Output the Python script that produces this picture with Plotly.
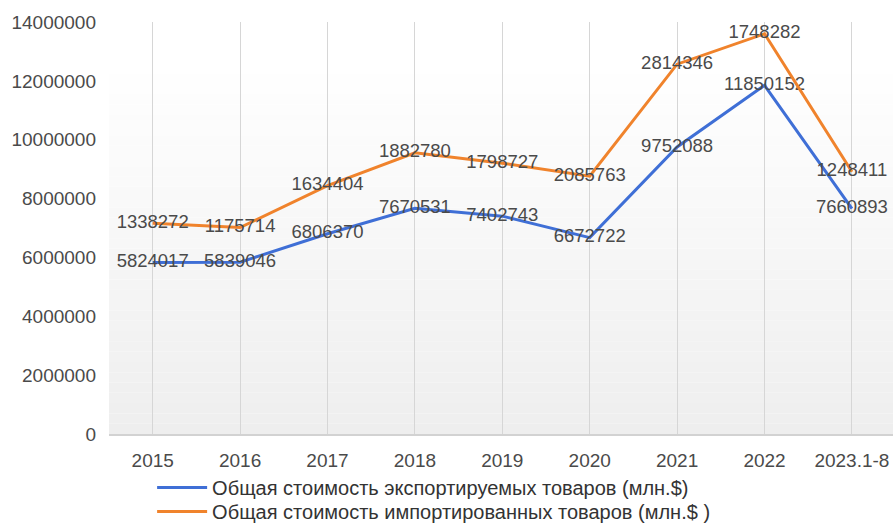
import plotly.graph_objects as go

categories = ["2015", "2016", "2017", "2018", "2019", "2020", "2021", "2022", "2023.1-8"]
exports = [5824017, 5839046, 6806370, 7670531, 7402743, 6672722, 9752088, 11850152, 7660893]
imports = [1338272, 1175714, 1634404, 1882780, 1798727, 2085763, 2814346, 1748282, 1248411]
y_ticks = [0, 2000000, 4000000, 6000000, 8000000, 10000000, 12000000, 14000000]

name_exp = "Общая стоимость экспортируемых товаров (млн.$)"
name_imp = "Общая стоимость импортированных товаров (млн.$ )"

BLUE = "#3f6fd6"
ORANGE = "#f0832c"
FONT = "Liberation Sans, Arial, sans-serif"
TXT = "#4a4a4a"

fig = go.Figure()
fig.add_trace(go.Scatter(
    x=categories, y=exports, name=name_exp, stackgroup="s", fill="none",
    mode="lines+text", line=dict(color=BLUE, width=3),
    text=[str(v) for v in exports], textposition="middle center",
    textfont=dict(family=FONT, size=18.5, color=TXT), cliponaxis=False,
    legend="legend",
))
fig.add_trace(go.Scatter(
    x=categories, y=imports, name=name_imp, stackgroup="s", fill="none",
    mode="lines+text", line=dict(color=ORANGE, width=3),
    text=[str(v) for v in imports], textposition="middle center",
    textfont=dict(family=FONT, size=18.5, color=TXT), cliponaxis=False,
    legend="legend2",
))

# vertical gradient background (white at top -> light gray at bottom)
shapes = []
n = 40
top = 14000000
for i in range(n):
    y0 = top * i / n
    y1 = top * (i + 1) / n
    t = (i + 0.5) / n  # 0 bottom, 1 top
    c = int(round(238 + (255 - 238) * min(1.0, t / 0.9)))
    shapes.append(dict(type="rect", xref="paper", yref="y", x0=0, x1=1, y0=y0, y1=y1,
                       fillcolor=f"rgb({c},{c},{c})", line=dict(width=0), layer="below"))

leg_common = dict(orientation="v", x=0.055, xanchor="left", yanchor="middle",
                  font=dict(family=FONT, size=20, color="#333333"),
                  bgcolor="rgba(0,0,0,0)", itemwidth=50)

fig.update_layout(
    width=893, height=523,
    margin=dict(l=109, r=0, t=22, b=89, autoexpand=False),
    paper_bgcolor="white", plot_bgcolor="white",
    font=dict(family=FONT, size=19, color=TXT),
    showlegend=True,
    legend=dict(y=-0.130, **leg_common),
    legend2=dict(y=-0.188, **leg_common),
    shapes=shapes,
    xaxis=dict(type="category", range=[-0.5, 8.47], showgrid=True, gridcolor="#d6d6d6",
               gridwidth=1, showline=True, linecolor="#d2d2d2", linewidth=2,
               ticks="", tickfont=dict(family=FONT, size=19, color=TXT), ticklabelstandoff=8,
               automargin=False),
    yaxis=dict(range=[0, 14000000], tickvals=y_ticks, ticktext=[str(v) for v in y_ticks],
               showgrid=False, zeroline=False, showline=False, ticks="",
               tickfont=dict(family=FONT, size=19, color=TXT), ticklabelstandoff=12,
               automargin=False),
)

fig.write_html("out.html",
               config={"displayModeBar": False},
               post_script="document.body.style.margin='0';document.body.style.padding='0';"
                           "document.body.style.overflow='hidden';")
